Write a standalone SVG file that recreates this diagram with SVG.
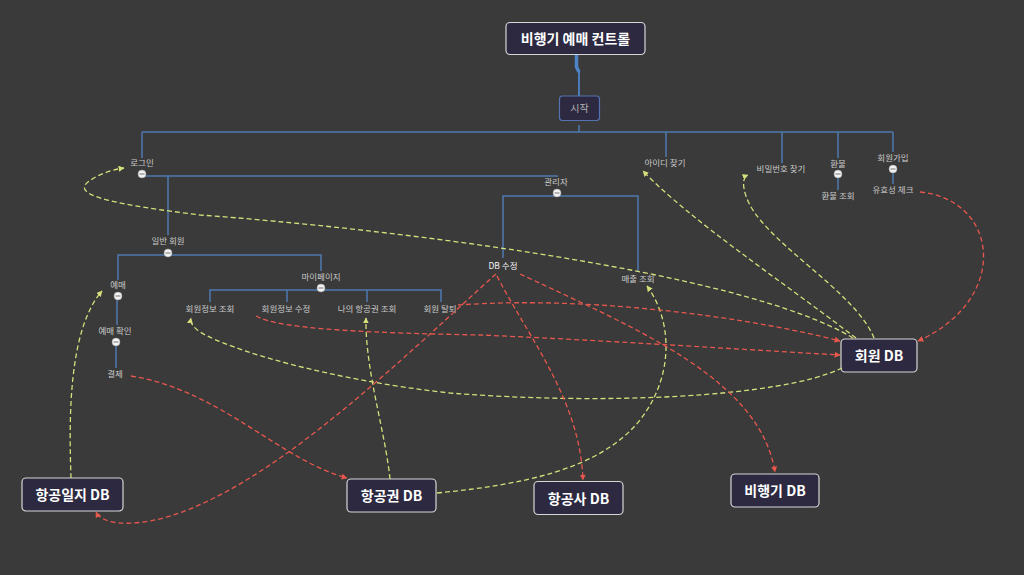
<svg xmlns="http://www.w3.org/2000/svg" width="1024" height="575" viewBox="0 0 1024 575">
<defs>
<style>
.lbl{font-family:"Noto Sans CJK KR","Noto Sans",sans-serif;font-size:8.5px;fill:#c9c9c9;text-anchor:middle}
.big{font-family:"Noto Sans CJK KR","Noto Sans",sans-serif;font-size:14px;font-weight:bold;fill:#ffffff;text-anchor:middle}
.box{fill:#2c2940;stroke:#d6d6d6;stroke-width:1.2}
.tree{fill:none;stroke:#4f78b0;stroke-width:1.5}
.y{fill:none;stroke:#d6df7c;stroke-width:1.3;stroke-dasharray:5 3}
.r{fill:none;stroke:#e8574d;stroke-width:1.3;stroke-dasharray:5 3}
.dot{fill:#f2f2f2;stroke:#9a9a9a;stroke-width:0.5}
.minus{stroke:#777;stroke-width:1}
</style>
<marker id="ay" viewBox="0 0 10 10" refX="9" refY="5" markerWidth="6" markerHeight="6" markerUnits="userSpaceOnUse" orient="auto"><path d="M0 0L10 5L0 10z" fill="#d6df7c"/></marker>
<marker id="ar" viewBox="0 0 10 10" refX="9" refY="5" markerWidth="6" markerHeight="6" markerUnits="userSpaceOnUse" orient="auto"><path d="M0 0L10 5L0 10z" fill="#e8574d"/></marker>
</defs>
<rect width="1024" height="575" fill="#3a3a3a"/>

<g id="tree-lines">
<path d="M576.5 54 V67 L579 72" fill="none" stroke="#4f83c8" stroke-width="3.5"/>
<path d="M579 71 V96" fill="none" stroke="#4f83c8" stroke-width="1.8"/>
<path class="tree" d="M579 125 V132 M142 132 H893 M142 132 V158 M666 132 V157 M782 132 V163 M838 132 V158 M893 132 V152"/>
<path class="tree" d="M838 174 V190 M893 169 V184"/>
<path class="tree" d="M142 176 H557 V177 M168 176 V235"/>
<path class="tree" d="M503 258 V196 H638 V271"/>
<path class="tree" d="M118 280 V255 H321 V271"/>
<path class="tree" d="M117 299 V325 M116 345 V368"/>
<path class="tree" d="M210 302 V290 H441 V302 M287 290 V302 M367 290 V302"/>
</g>

<g id="node-title"><rect class="box" x="506" y="22.5" width="139" height="32" rx="4"/><text class="big" x="575.5" y="43.5">비행기 예매 컨트롤</text></g>
<g id="node-start"><rect x="559.5" y="96" width="40" height="24.5" rx="3" fill="#2c2940" stroke="#5573b0" stroke-width="1.2"/><text class="lbl" x="579.5" y="111.5" style="font-size:10px;fill:#b0b0b0">시작</text></g>

<g id="node-login"><text class="lbl" x="142" y="166">로그인</text><circle class="dot" cx="142" cy="174" r="4"/><line class="minus" x1="139.5" y1="174" x2="144.5" y2="174"/></g>
<g id="node-findid"><text class="lbl" x="665" y="166">아이디 찾기</text></g>
<g id="node-findpw"><text class="lbl" x="781" y="172">비밀번호 찾기</text></g>
<g id="node-refund"><text class="lbl" x="838" y="167">환불</text><circle class="dot" cx="838" cy="174" r="4"/><line class="minus" x1="835.5" y1="174" x2="840.5" y2="174"/></g>
<g id="node-refundcheck"><text class="lbl" x="838" y="199">환불 조회</text></g>
<g id="node-join"><text class="lbl" x="893" y="161">회원가입</text><circle class="dot" cx="893" cy="169" r="4"/><line class="minus" x1="890.5" y1="169" x2="895.5" y2="169"/></g>
<g id="node-valid"><text class="lbl" x="893" y="193">유효성 체크</text></g>
<g id="node-admin"><text class="lbl" x="556" y="185">관리자</text><circle class="dot" cx="557" cy="193" r="4"/><line class="minus" x1="554.5" y1="193" x2="559.5" y2="193"/></g>
<g id="node-member"><text class="lbl" x="168" y="244">일반 회원</text><circle class="dot" cx="168" cy="253" r="4"/><line class="minus" x1="165.5" y1="253" x2="170.5" y2="253"/></g>
<g id="node-dbedit"><text class="lbl" x="503" y="269" style="fill:#f2f2f2">DB 수정</text></g>
<g id="node-sales"><text class="lbl" x="638" y="282">매출 조회</text></g>
<g id="node-reserve"><text class="lbl" x="118" y="288">예매</text><circle class="dot" cx="118" cy="296" r="4"/><line class="minus" x1="115.5" y1="296" x2="120.5" y2="296"/></g>
<g id="node-mypage"><text class="lbl" x="321" y="280">마이페이지</text><circle class="dot" cx="321" cy="288" r="4"/><line class="minus" x1="318.5" y1="288" x2="323.5" y2="288"/></g>
<g id="node-infoview"><text class="lbl" x="210" y="312">회원정보 조회</text></g>
<g id="node-infoedit"><text class="lbl" x="286" y="312">회원정보 수정</text></g>
<g id="node-myticket"><text class="lbl" x="367" y="312">나의 항공권 조회</text></g>
<g id="node-withdraw"><text class="lbl" x="440" y="312">회원 탈퇴</text></g>
<g id="node-reservecheck"><text class="lbl" x="115" y="334">예매 확인</text><circle class="dot" cx="116" cy="342" r="4"/><line class="minus" x1="113.5" y1="342" x2="118.5" y2="342"/></g>
<g id="node-pay"><text class="lbl" x="115" y="377">결제</text></g>

<g id="node-memberdb"><rect class="box" x="841" y="339" width="76" height="33" rx="4"/><text class="big" x="879" y="361">회원 DB</text></g>
<g id="node-logdb"><rect class="box" x="22" y="478" width="101" height="33" rx="4"/><text class="big" x="72.5" y="500">항공일지 DB</text></g>
<g id="node-ticketdb"><rect class="box" x="347" y="479" width="89" height="33" rx="4"/><text class="big" x="391.5" y="501">항공권 DB</text></g>
<g id="node-airlinedb"><rect class="box" x="534" y="481.5" width="89" height="33" rx="4"/><text class="big" x="578.5" y="503.5">항공사 DB</text></g>
<g id="node-planedb"><rect class="box" x="731" y="474" width="88" height="33" rx="4"/><text class="big" x="775" y="496">비행기 DB</text></g>

<g id="connectors">
<path class="y" marker-end="url(#ay)" d="M853 338 C740 270 380 228 200 215 C120 205 70 196 88 182 C97 175 110 170 124 168"/>
<path class="y" marker-end="url(#ay)" d="M856 338 C780 280 690 220 643 171"/>
<path class="y" marker-end="url(#ay)" d="M874 338 C855 290 760 240 746 196 C742 184 743 177 748 175"/>
<path class="y" marker-end="url(#ay)" d="M842 368 C780 398 600 405 450 393 C330 380 230 350 200 332 C193 327 190 323 191 318"/>
<path class="y" marker-end="url(#ay)" d="M71 478 C69 420 68 330 102 291"/>
<path class="y" marker-end="url(#ay)" d="M390 479 C385 430 365 370 366 318"/>
<path class="y" marker-end="url(#ay)" d="M437 493 C520 485 600 470 640 420 C675 375 672 320 647 286"/>
<path class="r" marker-end="url(#ar)" d="M496 274 C400 360 260 500 150 521 C115 527 100 520 96 512"/>
<path class="r" marker-end="url(#ar)" d="M497 276 C530 340 580 400 583 480"/>
<path class="r" marker-end="url(#ar)" d="M520 274 C640 330 760 380 775 472"/>
<path class="r" marker-end="url(#ar)" d="M458 305 C600 295 760 320 840 341"/>
<path class="r" marker-end="url(#ar)" d="M256 316 C280 330 380 333 480 335 C600 340 750 350 840 355"/>
<path class="r" marker-end="url(#ar)" d="M131 376 C220 390 280 460 347 478"/>
<path class="r" marker-end="url(#ar)" d="M920 192 C1000 200 1010 300 918 341"/>
</g>
</svg>
